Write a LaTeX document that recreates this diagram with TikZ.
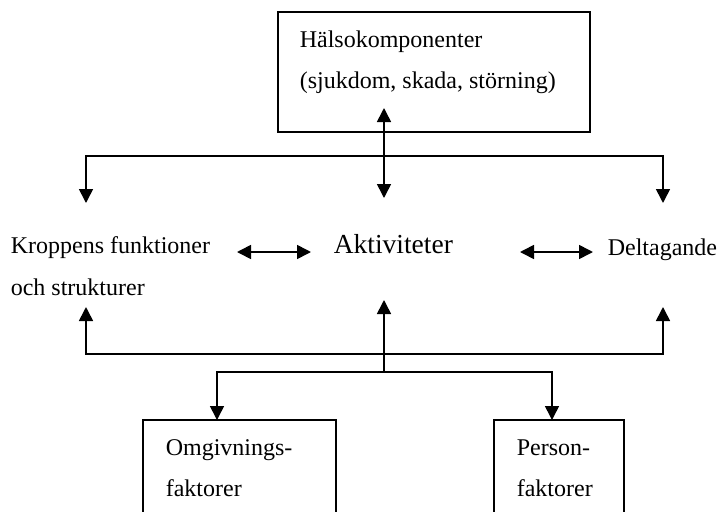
\documentclass[tikz,border=0pt]{standalone}
\usepackage{fontspec}
\setmainfont{Liberation Serif}
\usetikzlibrary{arrows.meta}
\begin{document}
\begin{tikzpicture}[x=1pt,y=-1pt,
  line width=1.6pt,
  tri/.tip={Triangle[length=14pt,width=14pt]},
  onehead/.style={-tri},
  twoheads/.style={tri-tri},
  box/.style={draw,inner sep=0pt,line width=1.6pt},
  lbl/.style={inner sep=0pt,anchor=base west,font=\fontsize{24}{28}\selectfont},
  biglbl/.style={inner sep=0pt,anchor=base west,font=\fontsize{27.5}{32}\selectfont}]
  \clip (0,0) rectangle (724,512);

  % boxes
  \node[box,minimum width=312pt,minimum height=120pt] (hbox) at (434,72) {};
  \node[box,minimum width=193pt,minimum height=140pt] (obox) at (239.5,490) {};
  \node[box,minimum width=130pt,minimum height=140pt] (pbox) at (559,490) {};

  % labels
  \node[lbl] (h1) at (299,47) {Hälsokomponenter};
  \node[lbl] (h2) at (299,88) {(sjukdom, skada, störning)};
  \node[lbl] (k1) at (10,253) {Kroppens funktioner};
  \node[lbl] (k2) at (10,295) {och strukturer};
  \node[biglbl] (akt) at (333,253) {Aktiviteter};
  \node[lbl] (del) at (607,255) {Deltagande};
  \node[lbl] (o1) at (165,455) {Omgivnings-};
  \node[lbl] (o2) at (165,496) {faktorer};
  \node[lbl] (p1) at (516,455) {Person-};
  \node[lbl] (p2) at (516,496) {faktorer};

  % connector points
  \coordinate (htip) at (384,108);
  \coordinate (atop) at (384,198);
  \coordinate (tl) at (86,156);
  \coordinate (tr) at (663,156);
  \coordinate (kdown) at (86,203);
  \coordinate (ddown) at (663,203);
  \coordinate (kup) at (86,307);
  \coordinate (dup) at (663,307);
  \coordinate (bl) at (86,354);
  \coordinate (br) at (663,354);
  \coordinate (aup) at (384,300);
  \coordinate (bc) at (384,372);
  \coordinate (ol) at (217,372);
  \coordinate (pr) at (552,372);
  \coordinate (otip) at (217,420);
  \coordinate (ptip) at (552,420);
  \coordinate (ka1) at (237,252);
  \coordinate (ka2) at (311,252);
  \coordinate (ad1) at (520,252);
  \coordinate (ad2) at (593,252);

  % connectors
  \draw[twoheads] (htip) -- (atop);
  \draw[twoheads] (kdown) -- (tl) -- (tr) -- (ddown);
  \draw[twoheads] (kup) -- (bl) -- (br) -- (dup);
  \draw[onehead] (bc) -- (aup);
  \draw[twoheads] (otip) -- (ol) -- (pr) -- (ptip);
  \draw[twoheads] (ka1) -- (ka2);
  \draw[twoheads] (ad1) -- (ad2);
\end{tikzpicture}
\end{document}
